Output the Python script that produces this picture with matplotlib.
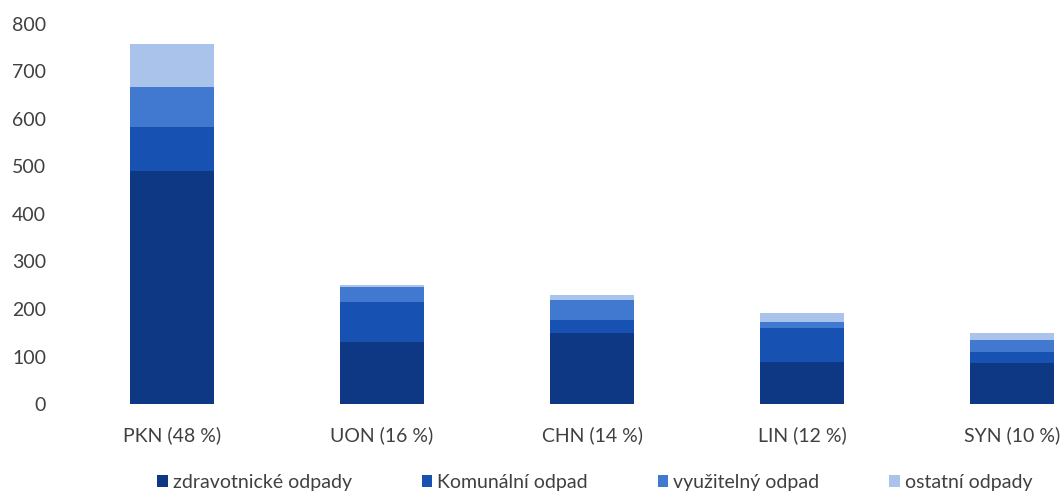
import numpy as np
import matplotlib
matplotlib.use("Agg")
import matplotlib.pyplot as plt

plt.rcParams['font.family'] = ['Lato', 'DejaVu Sans']

# Data
categories = ['PKN (48 %)', 'UON (16 %)', 'CHN (14 %)', 'LIN (12 %)', 'SYN (10 %)']
series_names = ['zdravotnické odpady', 'Komunální odpad', 'využitelný odpad', 'ostatní odpady']
zdravotnicke = [490, 130, 150, 88, 86]
komunalni = [93, 85, 27, 72, 24]
vyuzitelny = [84, 32, 42, 13, 25]
ostatni = [91, 3, 10, 19, 15]
y_ticks = [0, 100, 200, 300, 400, 500, 600, 700, 800]

colors = ['#0e3884', '#1751b2', '#4279d0', '#aac3ea']

fig = plt.figure(figsize=(10.62, 4.93), dpi=100)
ax = fig.add_axes([67 / 1062, 89 / 493, (1062 - 67) / 1062, 380 / 493])

x = np.arange(len(categories))
bottom = np.zeros(len(categories))
for name, vals, col in zip(series_names, [zdravotnicke, komunalni, vyuzitelny, ostatni], colors):
    ax.bar(x, vals, width=0.4, bottom=bottom, color=col, label=name)
    bottom += np.array(vals)

# bar centres ~210 px apart, first at 172 px; picture cut at the right edge
ax.set_xlim(-0.5, (1062 - 172) / 210)
ax.set_ylim(0, 800)
ax.set_yticks(y_ticks)
ax.set_xticks(x)
ax.set_xticklabels(categories)

for s in ax.spines.values():
    s.set_visible(False)
ax.tick_params(axis='both', length=0, labelsize=14, colors='#404040')
ax.tick_params(axis='y', pad=15)
ax.tick_params(axis='x', pad=16)

handles, labels = ax.get_legend_handles_labels()
fig.legend(handles, labels, loc='center', bbox_to_anchor=(0.56, 0.022), ncol=4,
           frameon=False, fontsize=14, handlelength=0.55, handleheight=0.55,
           handletextpad=0.25, columnspacing=3.6, labelcolor='#404040')

fig.savefig('out.png', dpi=100)
